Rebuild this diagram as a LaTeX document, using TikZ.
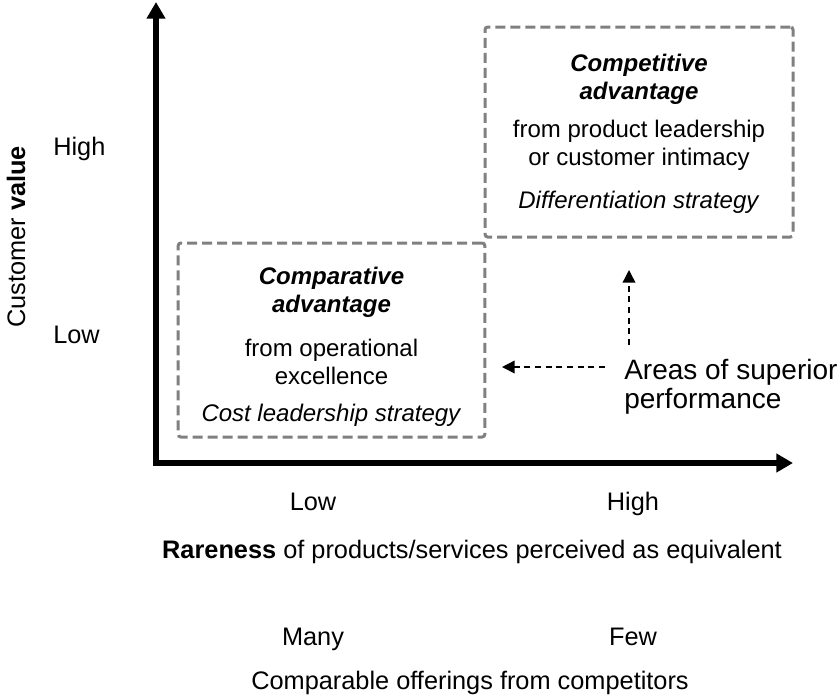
\documentclass[tikz,border=0pt]{standalone}
\usepackage{fontspec}
\setmainfont{Liberation Sans}
\usepackage{xcolor}
\definecolor{boxgray}{RGB}{128, 128, 128}
\usepackage{tikz}
\usetikzlibrary{arrows.meta, positioning}

\begin{document}
\begin{tikzpicture}[x=0.75pt, y=-0.75pt,
		axisline/.style={line width=4.5pt, line join=miter,
			{Triangle[length=12.5pt, width=13.5pt]}-{Triangle[length=12.5pt, width=13.5pt]}},
		zone/.style={draw=boxgray, line width=2.25pt, dash pattern=on 7.5pt off 3.75pt,
			rounded corners=2pt, inner sep=0pt},
		zonetext/.style={align=center, inner sep=0pt, font=\fontsize{18}{21}\selectfont},
		axislabel/.style={inner sep=0pt, font=\fontsize{19}{22}\selectfont},
		pointer/.style={line width=1.1pt, dash pattern=on 4.5pt off 3.5pt,
			-{Triangle[length=9.5pt, width=9.5pt]}}]
		\useasboundingbox (0,0) rectangle (838,697);

		% axes
		\coordinate (origin) at (156,463);
		\coordinate (ytip) at (156,2);
		\coordinate (xtip) at (793,463);
		\draw[axisline] (ytip) -- (origin) -- (xtip);

		% vertical axis labels
		\node[axislabel, anchor=base west] (valhigh) at (53,155) {High};
		\node[axislabel, anchor=base west] (vallow) at (53,343) {Low};
		\node[axislabel, rotate=90, anchor=base] (valtitle) at (25,237) {Customer \textbf{value}};

		% horizontal axis labels
		\node[axislabel, anchor=base] (rarelow) at (313,510) {Low};
		\node[axislabel, anchor=base] (rarehigh) at (633,510) {High};
		\node[axislabel, anchor=base] (raretitle) at (472,558)
			{\textbf{Rareness} of products/services perceived as equivalent};
		\node[axislabel, anchor=base] (offermany) at (313,645) {Many};
		\node[axislabel, anchor=base] (offerfew) at (633,645) {Few};
		\node[axislabel, anchor=base] (offertitle) at (470,689)
			{Comparable offerings from competitors};

		% the two advantage zones
		\node[zone, minimum width=230pt, minimum height=145.5pt] (comparative) at (331.5,340) {};
		\node[zonetext, below=18.75pt of comparative.north] (comparativetext) {
			\textbf{\textit{Comparative}}\\
			\textbf{\textit{advantage}}\\[12pt]
			from operational\\
			excellence\\[7pt]
			\textit{Cost leadership strategy}
		};
		\node[zone, minimum width=231pt, minimum height=157.5pt] (competitive) at (639,132) {};
		\node[zonetext, below=21.4pt of competitive.north] (competitivetext) {
			\textbf{\textit{Competitive}}\\
			\textbf{\textit{advantage}}\\[7.5pt]
			from product leadership\\
			or customer intimacy\\[11pt]
			\textit{Differentiation strategy}
		};

		% pointers
		\node[anchor=north west, align=left, inner sep=0pt, font=\fontsize{21}{22}\selectfont]
			(areas) at (624,359) {Areas of superior\\performance};
		\coordinate (leftfrom) at (605,367);
		\coordinate (leftto) at (502,367);
		\coordinate (upfrom) at (629,345);
		\coordinate (upto) at (629,270);
		\draw[pointer] (leftfrom) -- (leftto);
		\draw[pointer] (upfrom) -- (upto);
	\end{tikzpicture}
\end{document}
